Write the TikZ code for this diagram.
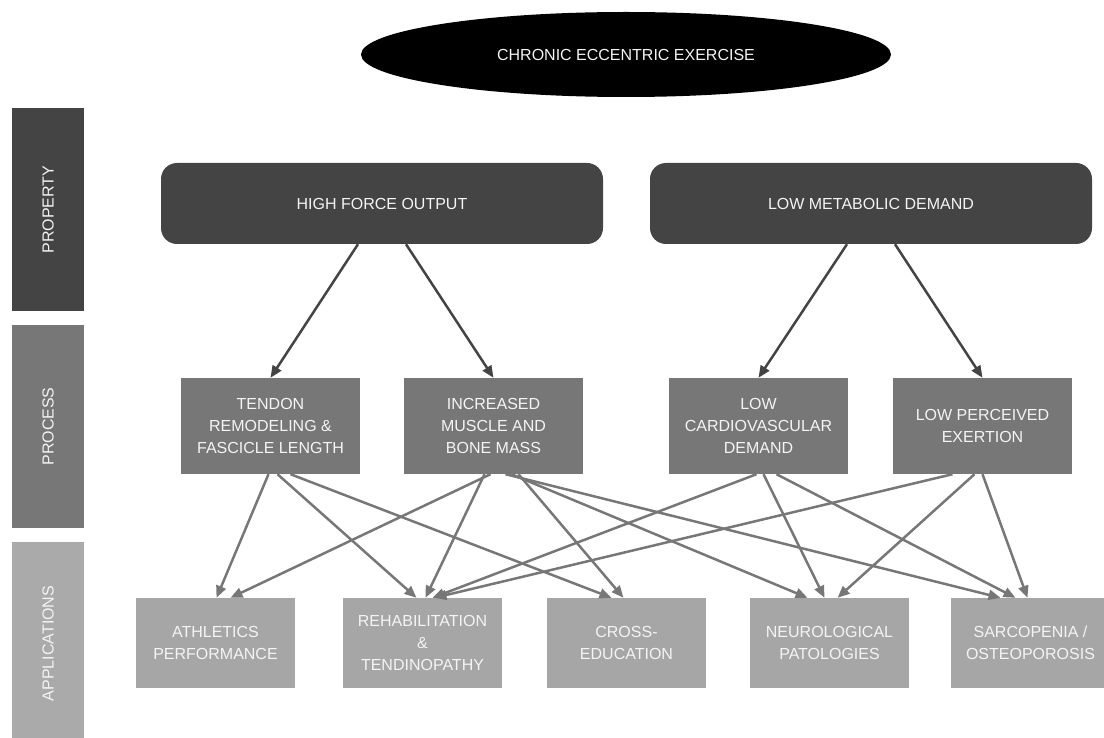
\documentclass[tikz,border=0pt]{standalone}
\usepackage{fontspec}
\setmainfont{Liberation Sans}
\usetikzlibrary{shapes.geometric,arrows.meta}
\definecolor{propcol}{HTML}{444444}
\definecolor{proccol}{HTML}{777777}
\definecolor{appcol}{HTML}{A6A6A6}
\definecolor{barcol}{HTML}{AAAAAA}
\definecolor{textcol}{HTML}{F4F4F4}

\begin{document}
\begin{tikzpicture}[
    x=1pt, y=-1pt,
    every node/.style={font=\fontsize{16}{22}\selectfont, text=textcol, align=center, inner sep=0pt},
    root/.style={ellipse, fill=black, minimum width=530pt, minimum height=85pt},
    property/.style={rectangle, rounded corners=16pt, fill=propcol, minimum width=442pt, minimum height=81pt},
    process/.style={rectangle, fill=proccol, minimum width=179pt, minimum height=96pt},
    application/.style={rectangle, fill=appcol, minimum width=159pt, minimum height=90pt},
    sidebar/.style={rectangle, rotate=90, minimum width=203pt, minimum height=72pt},
    strong/.style={draw=propcol, line width=2.5pt, -{Triangle[length=12pt,width=10pt]}},
    link/.style={draw=proccol, line width=2.5pt, -{Triangle[length=12pt,width=10pt]}}
]
\useasboundingbox (0,0) rectangle (1104,738);

% Level bars on the left
\node[sidebar, fill=propcol] (barprop) at (48,209.5) {PROPERTY};
\node[sidebar, fill=proccol] (barproc) at (48,426.5) {PROCESS};
\node[sidebar, fill=barcol] (barapp) at (48,643.5) {APPLICATIONS};

% The exercise
\node[root] (ecc) at (626,54.5) {CHRONIC ECCENTRIC EXERCISE};

% Properties
\node[property] (force) at (382,203.5) {HIGH FORCE OUTPUT};
\node[property] (metab) at (871,203.5) {LOW METABOLIC DEMAND};

% Processes
\node[process] (tendon) at (270.5,426) {TENDON\\REMODELING \&\\FASCICLE LENGTH};
\node[process] (muscle) at (493.5,426) {INCREASED\\MUSCLE AND\\BONE MASS};
\node[process] (cardio) at (758.5,426) {LOW\\CARDIOVASCULAR\\DEMAND};
\node[process] (effort) at (982.5,426) {LOW PERCEIVED\\EXERTION};

% Applications
\node[application] (athl) at (215.5,643) {ATHLETICS\\PERFORMANCE};
\node[application] (rehab) at (422.5,643) {REHABILITATION\\\&\\TENDINOPATHY};
\node[application] (cross) at (626.5,643) {CROSS-\\EDUCATION};
\node[application] (neuro) at (829.5,643) {NEUROLOGICAL\\PATOLOGIES};
\node[application] (sarco) at (1030.5,643) {SARCOPENIA /\\OSTEOPOROSIS};

% Links property -> process
\draw[strong] ([xshift=-24pt]force.south) -- (tendon.north);
\draw[strong] ([xshift=24pt]force.south) -- (muscle.north);
\draw[strong] ([xshift=-24pt]metab.south) -- (cardio.north);
\draw[strong] ([xshift=24pt]metab.south) -- (effort.north);

% Links process -> application
\draw[link] ([xshift=-2pt]tendon.south) -- ([xshift=1pt]athl.north);
\draw[link] ([xshift=7pt]tendon.south) -- ([xshift=-6pt]rehab.north);
\draw[link] ([xshift=20pt]tendon.south) -- ([xshift=-15pt]cross.north);

\draw[link] ([xshift=-3pt]muscle.south) -- ([xshift=15pt]athl.north);
\draw[link] ([xshift=-9pt]muscle.south) -- ([xshift=3pt]rehab.north);
\draw[link] ([xshift=25pt]muscle.south) -- ([xshift=-3pt]cross.north);
\draw[link] ([xshift=18pt]muscle.south) -- ([xshift=-22pt]neuro.north);
\draw[link] ([xshift=12pt]muscle.south) -- ([xshift=-30pt]sarco.north);

\draw[link] ([xshift=-2pt]cardio.south) -- ([xshift=10pt]rehab.north);
\draw[link] ([xshift=5pt]cardio.south) -- ([xshift=-5pt]neuro.north);
\draw[link] ([xshift=18pt]cardio.south) -- ([xshift=-15pt]sarco.north);

\draw[link] ([xshift=-30pt]effort.south) -- ([xshift=12pt]rehab.north);
\draw[link] ([xshift=-8pt]effort.south) -- ([xshift=8pt]neuro.north);
\draw[link] ([xshift=0pt]effort.south) -- ([xshift=-3pt]sarco.north);

\end{tikzpicture}
\end{document}
